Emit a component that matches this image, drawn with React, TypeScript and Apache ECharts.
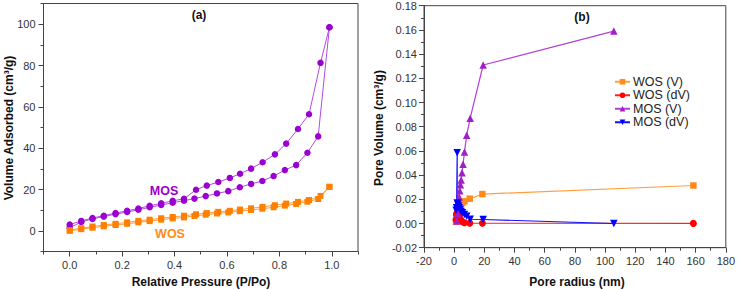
import React, { useEffect, useRef } from "react";
import * as echarts from "echarts";

// ---- (a) N2 isotherms ----
const mosAdsP = [0.0, 0.044, 0.087, 0.13, 0.175, 0.219, 0.262, 0.305, 0.349, 0.393, 0.436, 0.476, 0.519, 0.562, 0.605, 0.649, 0.692, 0.735, 0.778, 0.821, 0.864, 0.907, 0.948, 0.991];
const mosAdsV = [1.5, 4.3, 5.8, 6.9, 8.1, 9.1, 10.2, 11.4, 12.5, 13.6, 14.6, 15.6, 16.8, 18.1, 19.2, 21.1, 22.7, 24.1, 26.5, 29.4, 31.8, 37.8, 45.7, 98.5];
const mosDesP = [0.991, 0.957, 0.913, 0.871, 0.826, 0.783, 0.736, 0.692, 0.65, 0.611, 0.567, 0.523, 0.482, 0.436, 0.393, 0.349, 0.305, 0.262, 0.219, 0.175, 0.13, 0.087, 0.044, 0.0];
const mosDesV = [98.5, 81.3, 56.4, 49.3, 42.2, 37.0, 33.2, 30.1, 27.6, 25.6, 23.6, 21.9, 19.9, 15.5, 14.5, 13.3, 12.1, 10.8, 9.7, 8.6, 7.3, 6.2, 4.8, 3.0];
const wosAdsP = [0.0, 0.044, 0.087, 0.13, 0.175, 0.219, 0.262, 0.305, 0.349, 0.393, 0.436, 0.476, 0.519, 0.562, 0.605, 0.649, 0.692, 0.735, 0.778, 0.821, 0.864, 0.907, 0.948, 0.991];
const wosAdsV = [0.0, 0.8, 1.5, 2.2, 2.8, 3.4, 4.1, 4.7, 5.4, 6.0, 6.5, 7.2, 7.8, 8.4, 8.9, 9.5, 10.1, 10.7, 11.4, 12.2, 13.0, 14.1, 15.4, 21.3];
const wosDesP = [0.991, 0.957, 0.913, 0.871, 0.826, 0.783, 0.736, 0.692, 0.65, 0.611, 0.567, 0.523, 0.482, 0.436, 0.393, 0.349, 0.305, 0.262, 0.219, 0.175, 0.13, 0.087, 0.044, 0.0];
const wosDesV = [21.3, 16.9, 14.9, 14.0, 13.2, 12.4, 11.6, 10.9, 10.3, 9.7, 9.2, 8.6, 8.0, 7.3, 6.7, 6.1, 5.4, 4.8, 4.1, 3.4, 2.8, 2.1, 1.3, 0.3];

const aXTicks = [0, 0.2, 0.4, 0.6, 0.8, 1.0];
const aXMinor = [-0.1, 0.1, 0.3, 0.5, 0.7, 0.9, 1.1];
const aYTicks = [0, 20, 40, 60, 80, 100];
const aYMinor = [-10, 10, 30, 50, 70, 90, 110];

// ---- (b) pore size distribution ----
const wosVR = [1.2, 1.5, 1.8, 2.1, 2.5, 3.0, 3.6, 4.4, 5.4, 6.8, 10.3, 18.7, 158.5];
const wosVV = [0.0015, 0.004, 0.0065, 0.0085, 0.0105, 0.0125, 0.0142, 0.0158, 0.017, 0.0183, 0.0205, 0.0243, 0.0314];
const wosDVR = [1.2, 1.5, 1.8, 2.1, 2.5, 3.0, 3.6, 4.4, 5.4, 6.8, 10.3, 18.7, 158.5];
const wosDVV = [0.003, 0.0075, 0.0085, 0.008, 0.007, 0.0058, 0.0045, 0.003, 0.0015, 0.0006, 0.0003, 0.0002, 0.0001];
const mosVR = [1.7, 2.2, 2.6, 3.0, 3.3, 3.7, 4.1, 4.6, 5.2, 5.9, 6.8, 8.3, 10.6, 19.2, 105.8];
const mosVV = [0.002, 0.008, 0.013, 0.018, 0.022, 0.027, 0.032, 0.036, 0.042, 0.049, 0.059, 0.073, 0.087, 0.131, 0.159];
const mosDVR = [1.3, 1.6, 2.0, 2.0, 2.4, 2.8, 3.3, 3.9, 4.6, 5.5, 6.8, 8.3, 10.6, 19.2, 105.8];
const mosDVV = [0.011, 0.013, 0.0585, 0.017, 0.016, 0.0145, 0.013, 0.0115, 0.01, 0.0088, 0.0075, 0.006, 0.0035, 0.0033, 0.0];

const legendNames = ["WOS (V)", "WOS (dV)", "MOS (V)", "MOS (dV)"];

const FONT = "'Liberation Sans', Arial, sans-serif";
const AX = "#444";
const LBL = "#333";

const zip = (a: number[], b: number[]) => a.map((x, i) => [x, b[i]]);

export default function App() {
  const ref = useRef<HTMLDivElement>(null);
  useEffect(() => {
    if (!ref.current) return;
    const chart = echarts.init(ref.current, null, { renderer: "svg" });
    const axisLine = { show: true, onZero: false, lineStyle: { color: AX, width: 1 } };
    const lblStyle = { color: LBL, fontSize: 11, fontFamily: FONT };
    const purple = "#9A00D0";
    const purpleLine = "#B44AE0";
    const orange = "#FF8000";
    const orangeLine = "#FFA040";

    chart.setOption({
      animation: false,
      backgroundColor: "#fff",
      grid: [
        { left: 43.5, top: 3.5, width: 314.5, height: 248, show: true, borderColor: AX, borderWidth: 1 },
        { left: 424, top: 5.7, width: 303.7, height: 242, show: true, borderColor: AX, borderWidth: 1 },
      ],
      xAxis: [
        {
          type: "value", gridIndex: 0, min: -0.1, max: 1.1, position: "bottom",
          axisLine, splitLine: { show: false },
          axisTick: { show: true, length: 5, customValues: aXTicks, lineStyle: { color: AX } },
          axisLabel: { ...lblStyle, margin: 8, customValues: aXTicks, formatter: (v: number) => v.toFixed(1) },
        },
        {
          type: "value", gridIndex: 0, min: -0.1, max: 1.1, position: "bottom",
          axisLine: { show: false, onZero: false }, splitLine: { show: false },
          axisTick: { show: true, length: 3, customValues: aXMinor, lineStyle: { color: AX } },
          axisLabel: { show: false },
        },
        {
          type: "value", gridIndex: 1, min: -20, max: 180, interval: 20, position: "bottom",
          axisLine, splitLine: { show: false },
          axisTick: { show: true, length: 5, lineStyle: { color: AX } },
          minorTick: { show: true, splitNumber: 2, length: 3, lineStyle: { color: AX } },
          axisLabel: { ...lblStyle, margin: 8 },
        },
      ],
      yAxis: [
        {
          type: "value", gridIndex: 0, min: -10, max: 110, position: "left",
          axisLine, splitLine: { show: false },
          axisTick: { show: true, length: 5, customValues: aYTicks, lineStyle: { color: AX } },
          axisLabel: { ...lblStyle, margin: 8, customValues: aYTicks },
        },
        {
          type: "value", gridIndex: 0, min: -10, max: 110, position: "left",
          axisLine: { show: false, onZero: false }, splitLine: { show: false },
          axisTick: { show: true, length: 3, customValues: aYMinor, lineStyle: { color: AX } },
          axisLabel: { show: false },
        },
        {
          type: "value", gridIndex: 1, min: -0.02, max: 0.18, interval: 0.02, position: "left",
          axisLine, splitLine: { show: false },
          axisTick: { show: true, length: 5, lineStyle: { color: AX } },
          minorTick: { show: true, splitNumber: 2, length: 3, lineStyle: { color: AX } },
          axisLabel: { ...lblStyle, margin: 7, formatter: (v: number) => v.toFixed(2) },
        },
      ],
      legend: {
        data: legendNames,
        orient: "vertical",
        left: 614,
        top: 75,
        itemWidth: 15,
        itemHeight: 7,
        itemGap: 0,
        textStyle: { fontSize: 12.5, lineHeight: 13.5, fontFamily: FONT, color: "#222", padding: [0, 0, 0, -2] },
        padding: 0,
      },
      series: [
        {
          name: "MOS ads", type: "line", xAxisIndex: 0, yAxisIndex: 0, data: zip(mosAdsP, mosAdsV),
          symbol: "circle", symbolSize: 6.5, itemStyle: { color: purple }, lineStyle: { color: purpleLine, width: 1 },
        },
        {
          name: "MOS des", type: "line", xAxisIndex: 0, yAxisIndex: 0, data: zip(mosDesP, mosDesV),
          symbol: "circle", symbolSize: 6.5, itemStyle: { color: purple }, lineStyle: { color: purpleLine, width: 1 },
        },
        {
          name: "WOS ads", type: "line", xAxisIndex: 0, yAxisIndex: 0, data: zip(wosAdsP, wosAdsV),
          symbol: "rect", symbolSize: 6, itemStyle: { color: orange }, lineStyle: { color: orangeLine, width: 1 },
        },
        {
          name: "WOS des", type: "line", xAxisIndex: 0, yAxisIndex: 0, data: zip(wosDesP, wosDesV),
          symbol: "rect", symbolSize: 6, itemStyle: { color: orange }, lineStyle: { color: orangeLine, width: 1 },
        },
        {
          name: "WOS (V)", type: "line", xAxisIndex: 2, yAxisIndex: 2, data: zip(wosVR, wosVV),
          symbol: "rect", symbolSize: 6.5, itemStyle: { color: "#FF8C1A" }, lineStyle: { color: "#FFA040", width: 1.2 },
        },
        {
          name: "WOS (dV)", type: "line", xAxisIndex: 2, yAxisIndex: 2, data: zip(wosDVR, wosDVV),
          symbol: "circle", symbolSize: 7, itemStyle: { color: "#FF0000" }, lineStyle: { color: "#FF2020", width: 1.2 },
        },
        {
          name: "MOS (V)", type: "line", xAxisIndex: 2, yAxisIndex: 2, data: zip(mosVR, mosVV),
          symbol: "triangle", symbolSize: 7.5, itemStyle: { color: "#A020C8" }, lineStyle: { color: "#B040D8", width: 1.2 },
        },
        {
          name: "MOS (dV)", type: "line", xAxisIndex: 2, yAxisIndex: 2, data: zip(mosDVR, mosDVV),
          symbol: "triangle", symbolRotate: 180, symbolSize: 7.5, itemStyle: { color: "#0000FF" }, lineStyle: { color: "#1010FF", width: 1.2 },
        },
      ],
      graphic: [
        { type: "text", x: 199, y: 15, style: { text: "(a)", font: `bold 12px ${FONT}`, fill: "#111", align: "center", verticalAlign: "middle" } },
        { type: "text", x: 582, y: 17, style: { text: "(b)", font: `bold 12px ${FONT}`, fill: "#111", align: "center", verticalAlign: "middle" } },
        { type: "text", x: 164, y: 191, style: { text: "MOS", font: `bold 12.5px ${FONT}`, fill: "#9A00D0", align: "center", verticalAlign: "middle" } },
        { type: "text", x: 170, y: 234, style: { text: "WOS", font: `bold 12.5px ${FONT}`, fill: "#FF8C1A", align: "center", verticalAlign: "middle" } },
        { type: "text", x: 201, y: 282, style: { text: "Relative Pressure (P/Po)", font: `bold 12px ${FONT}`, fill: "#111", align: "center", verticalAlign: "middle" } },
        { type: "text", x: 577, y: 282, style: { text: "Pore radius (nm)", font: `bold 12px ${FONT}`, fill: "#111", align: "center", verticalAlign: "middle" } },
        { type: "text", x: 8.5, y: 128, rotation: Math.PI / 2, style: { text: "Volume Adsorbed (cm³/g)", font: `bold 12px ${FONT}`, fill: "#111", align: "center", verticalAlign: "middle" } },
        { type: "text", x: 378.5, y: 128, rotation: Math.PI / 2, style: { text: "Pore Volume (cm³/g)", font: `bold 12px ${FONT}`, fill: "#111", align: "center", verticalAlign: "middle" } },
      ],
    });
    return () => chart.dispose();
  }, []);
  return <div ref={ref} style={{ position: "fixed", left: 0, top: 0, width: 738, height: 290 }} />;
}
